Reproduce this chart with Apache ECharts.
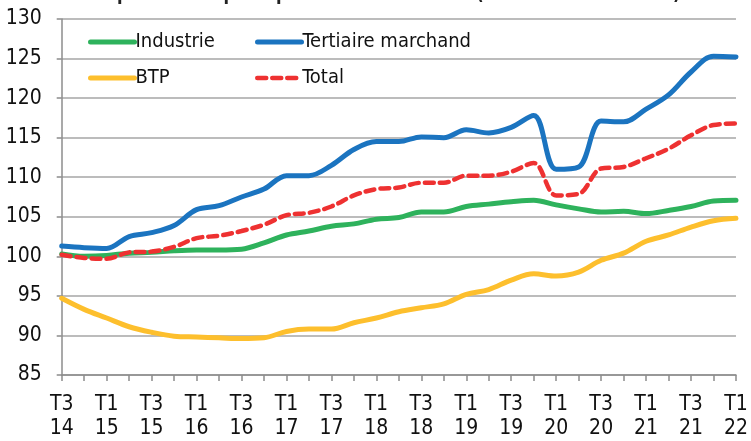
<!DOCTYPE html>
<html>
<head>
<meta charset="utf-8">
<script src="https://cdn.jsdelivr.net/npm/echarts@6/dist/echarts.min.js"></script>
<style>
  html, body { margin: 0; padding: 0; background: #fff; }
  #chart { width: 751px; height: 441px; }
</style>
</head>
<body>
<div id="chart"></div>
<script>
// trimestres, du T3 2014 au T1 2022
let categories = [
    'T3 14', 'T4 14',
    'T1 15', 'T2 15', 'T3 15', 'T4 15',
    'T1 16', 'T2 16', 'T3 16', 'T4 16',
    'T1 17', 'T2 17', 'T3 17', 'T4 17',
    'T1 18', 'T2 18', 'T3 18', 'T4 18',
    'T1 19', 'T2 19', 'T3 19', 'T4 19',
    'T1 20', 'T2 20', 'T3 20', 'T4 20',
    'T1 21', 'T2 21', 'T3 21', 'T4 21',
    'T1 22'
];

let industrie = [100.3, 100.0, 100.1, 100.4, 100.5, 100.7, 100.8, 100.8, 100.9, 101.7,
    102.7, 103.2, 103.8, 104.1, 104.7, 104.9, 105.6, 105.6, 106.3, 106.6,
    106.9, 107.1, 106.5, 106.0, 105.6, 105.7, 105.4, 105.8, 106.3, 107.0, 107.1];

let tertiaire = [101.3, 101.1, 101.0, 102.5, 103.0, 103.9, 105.9, 106.4, 107.5, 108.5,
    110.2, 110.2, 111.5, 113.5, 114.5, 114.5, 115.1, 115.0, 116.0, 115.6,
    116.3, 117.8, 111.0, 111.3, 117.1, 117.0, 118.6, 120.4, 123.3, 125.3, 125.2];

let btp = [94.7, 93.3, 92.2, 91.1, 90.4, 89.9, 89.8, 89.7, 89.6, 89.7,
    90.5, 90.8, 90.8, 91.6, 92.2, 93.0, 93.5, 94.0, 95.2, 95.8,
    97.0, 97.8, 97.5, 98.0, 99.5, 100.4, 101.9, 102.7, 103.7, 104.5, 104.8];

let total = [100.2, 99.8, 99.7, 100.5, 100.6, 101.2, 102.3, 102.6, 103.2, 104.0,
    105.2, 105.5, 106.3, 107.7, 108.5, 108.7, 109.3, 109.3, 110.2, 110.2,
    110.7, 111.8, 107.7, 107.9, 111.1, 111.3, 112.4, 113.6, 115.3, 116.6, 116.8];

let yTicks = { min: 85, max: 130, interval: 5 };

const FONT = '"Liberation Sans Narrow", "DejaVu Sans Condensed", sans-serif';
const GREEN = '#2eb25c';
const BLUE = '#1b74c0';
const YELLOW = '#fdbf2d';
const RED = '#ee3131';

function lineSerie(name, data, color, width, type) {
    return {
        name: name,
        type: 'line',
        data: data,
        smooth: 0.35,
        symbol: 'none',
        lineStyle: { color: color, width: width, type: type || 'solid', cap: 'round' },
        itemStyle: { color: color },
        z: name === 'Total' ? 5 : 3
    };
}

function legendItem(name, left, top, width) {
    return {
        data: [name],
        left: left,
        top: top,
        itemWidth: 44,
        itemHeight: 14,
        itemGap: 0,
        itemStyle: { opacity: 0 },
        lineStyle: { width: width },
        textStyle: { fontFamily: FONT, fontSize: 20, color: '#111', padding: [0, 0, 0, -4] }
    };
}

let chart = echarts.init(document.getElementById('chart'));

let option = {
    animation: false,
    backgroundColor: '#fff',
    title: {
        text: '{b|Emploi salarié privé par secteur d\'activité} {n|(base 100 au T3 2014)}',
        left: 84,
        top: -19,
        textStyle: {
            rich: {
                b: { fontFamily: FONT, fontSize: 18, fontWeight: 'bold', color: '#222' },
                n: { fontFamily: FONT, fontSize: 18, color: '#222' }
            }
        }
    },
    legend: [
        legendItem('Industrie', 83, 27, 5),
        legendItem('Tertiaire marchand', 250, 27, 5),
        legendItem('BTP', 83, 63, 5),
        legendItem('Total', 250, 63, 4.5)
    ],
    grid: { left: 61.7, right: 10.4, top: 19, bottom: 62, containLabel: false },
    xAxis: {
        type: 'category',
        data: categories,
        boundaryGap: false,
        axisLine: { lineStyle: { color: '#8c8c8c', width: 1.5 } },
        axisTick: { show: true, interval: 0, length: 6, lineStyle: { color: '#8c8c8c', width: 1.5 } },
        axisLabel: {
            interval: 1,
            margin: 18,
            color: '#111',
            fontFamily: FONT,
            fontSize: 21,
            lineHeight: 24,
            formatter: v => v.replace(' ', '\n')
        },
        splitLine: { show: false }
    },
    yAxis: {
        type: 'value',
        min: yTicks.min,
        max: yTicks.max,
        interval: yTicks.interval,
        axisLine: { show: true, lineStyle: { color: '#8c8c8c', width: 1.5 } },
        axisTick: { show: true, length: 5, lineStyle: { color: '#8c8c8c', width: 1.5 } },
        axisLabel: { margin: 20, color: '#111', fontFamily: FONT, fontSize: 21 },
        splitLine: { lineStyle: { color: '#a6a6a6', width: 1.5 } }
    },
    series: [
        lineSerie('Industrie', industrie, GREEN, 5),
        lineSerie('Tertiaire marchand', tertiaire, BLUE, 5),
        lineSerie('BTP', btp, YELLOW, 5),
        lineSerie('Total', total, RED, 4.5, [9, 6])
    ]
};

chart.setOption(option);
</script>
</body>
</html>
